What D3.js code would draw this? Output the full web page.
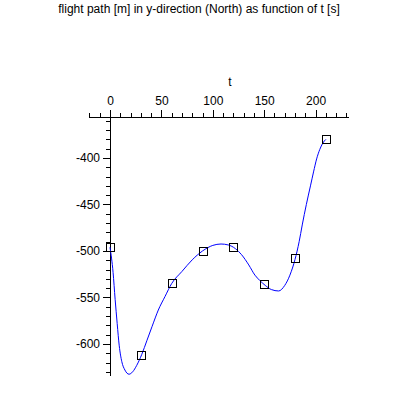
<!DOCTYPE html>
<html>
<head>
<meta charset="utf-8">
<script src="https://cdn.jsdelivr.net/npm/d3@7"></script>
<style>
  body { margin: 0; background: #fff; }
  svg { display: block; font-family: "Liberation Sans", Arial, sans-serif; }
</style>
</head>
<body>
<svg></svg>
<script>
// measured points (t in s, y in m)
let tValues = [0, 30, 60, 90, 120, 150, 180, 210]
let yValues = [-496, -611.5, -534.5, -499.5, -496, -535.5, -507.5, -380]

// fitted curve
let curveT = [0, 3, 5, 7, 9, 11.5, 14.5, 18.5, 22, 26, 31, 36, 41, 47, 53.5, 60, 70, 80, 90,
              100, 108, 115, 122, 128, 135, 141, 146, 151, 157, 164, 170, 175, 180, 184, 187,
              191, 195, 198, 201, 204, 207, 210]
let curveY = [-496, -523, -552, -578, -602, -619, -628, -632.5, -630, -623, -611, -596, -581,
              -563.5, -549, -535, -522, -509.5, -500, -494, -492.5, -493.5, -497.5, -504, -515,
              -526, -532, -537, -541.5, -543, -537, -526, -509, -490, -472, -450, -430, -415,
              -401, -391, -384, -380]

let xMajor = [0, 50, 100, 150, 200]
let yMajor = [-600, -550, -500, -450, -400]

let width = 398
let height = 398

let points = tValues.map((t, i) => ({ t: t, y: yValues[i] }))
let curvePts = curveT.map((t, i) => ({ t: t, y: curveY[i] }))

let xScale = d3.scaleLinear()
                .domain([-21, 232])
                .range([88.4, 348.5])

let yScale = d3.scaleLinear()
                .domain([-634, -355.5])
                .range([375.6, 116.6])

let svg = d3.select('svg')
    .attr('width', width)
    .attr('height', height)

let axisY = 117   // x axis sits at the top of the view
let axisX = xScale(0)

// minor ticks every 10
let xMinor = d3.range(-20, 231, 10)
let yMinor = d3.range(-630, -355, 10)

svg.append('g')
    .attr('transform', `translate(0, ${axisY})`)
    .call(d3.axisTop(xScale).tickValues(xMinor).tickSize(4).tickSizeOuter(0).tickFormat(''))

svg.append('g')
    .attr('transform', `translate(0, ${axisY})`)
    .call(d3.axisTop(xScale).tickValues(xMajor).tickSize(7).tickSizeOuter(0).tickPadding(5)
            .tickFormat(d => String(d)))
    .call(g => g.select('.domain').remove())

svg.append('g')
    .attr('transform', `translate(${axisX}, 0)`)
    .call(d3.axisLeft(yScale).tickValues(yMinor).tickSize(4).tickSizeOuter(0).tickFormat(''))

svg.append('g')
    .attr('transform', `translate(${axisX}, 0)`)
    .call(d3.axisLeft(yScale).tickValues(yMajor).tickSize(7).tickSizeOuter(0).tickPadding(3)
            .tickFormat(d => String(d)))
    .call(g => g.select('.domain').remove())

svg.selectAll('.tick text')
    .style('font-size', '12px')
    .style('font-family', '"Liberation Sans", Arial, sans-serif')

svg.selectAll('.domain, .tick line')
    .attr('shape-rendering', 'crispEdges')

let line = d3.line()
    .x(d => xScale(d.t))
    .y(d => yScale(d.y))
    .curve(d3.curveMonotoneX)

svg.append('path')
    .datum(curvePts)
    .attr('d', line)
    .attr('fill', 'none')
    .attr('stroke', '#0000ff')
    .attr('stroke-width', 1)

svg.selectAll('rect.pt')
  .data(points)
  .enter()
  .append('rect')
    .attr('class', 'pt')
    .attr('x', d => Math.round(xScale(d.t)) - 4 + 0.5)
    .attr('y', d => Math.round(yScale(d.y)) - 4 + 0.5)
    .attr('width', 8)
    .attr('height', 8)
    .attr('fill', 'none')
    .attr('stroke', '#000')
    .attr('stroke-width', 1)

svg.append('text')
    .attr('x', 230)
    .attr('y', 86)
    .style('text-anchor', 'middle')
    .style('font-size', '12px')
    .text('t')

svg.append('text')
    .attr('x', 199)
    .attr('y', 13)
    .style('text-anchor', 'middle')
    .style('font-size', '12px')
    .text('flight path [m] in y-direction (North) as function of t [s]')
</script>
</body>
</html>
